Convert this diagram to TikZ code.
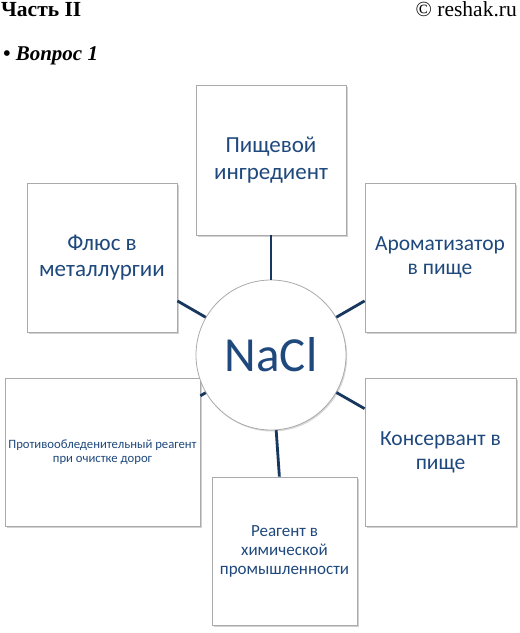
\documentclass[tikz,border=0pt]{standalone}
\usepackage{fontspec}
\setmainfont{Liberation Serif}
\newfontfamily\calibri{Carlito}
\usepackage{tikz}
\usetikzlibrary{shadows}

\definecolor{naclblue}{RGB}{31,73,125}
\definecolor{linkblue}{RGB}{23,55,94}
\definecolor{edgegrey}{RGB}{170,170,170}

\tikzset{
	usebox/.style={shape=rectangle, draw=edgegrey, fill=white, line width=0.8pt,
		drop shadow={shadow xshift=1.5pt, shadow yshift=-1.8pt, opacity=0.35},
		inner sep=0pt, align=center, text=naclblue},
	link/.style={-, line width=2.8pt, draw=linkblue}
}

\begin{document}
\begin{tikzpicture}[x=1pt, y=-1pt]
	\useasboundingbox (0, 0) rectangle (520, 633);
	\fill[white] (0, 0) rectangle (520, 633);

	% header
	\node[anchor=base west, inner sep=0pt, font=\fontsize{21.5}{24}\selectfont\bfseries] (part) at (1, 16) {Часть II};
	\node[anchor=base east, inner sep=0pt, font=\fontsize{21.5}{24}\selectfont] (site) at (517, 16) {© reshak.ru};
	\node[anchor=base west, inner sep=0pt, font=\fontsize{21}{24}\selectfont\bfseries\itshape] (quest) at (3, 60) {• Вопрос 1};

	% boxes
	\node[usebox, minimum width=150, minimum height=150, font=\calibri\fontsize{23}{27}\selectfont] (ingr) at (271, 160) {Пищевой\\ингредиент};
	\node[usebox, minimum width=150, minimum height=149, font=\calibri\fontsize{23}{26}\selectfont] (flux) at (102, 257.5) {Флюс в\\металлургии};
	\node[usebox, minimum width=150, minimum height=149, font=\calibri\fontsize{21.5}{24}\selectfont] (arom) at (440, 257.5) {Ароматизатор\\в пище};
	\node[usebox, minimum width=195, minimum height=148, font=\calibri\fontsize{12.7}{14}\selectfont] (deice) at (102.5, 452) {Противообледенительный реагент\\при очистке дорог};
	\node[usebox, minimum width=151, minimum height=148, font=\calibri\fontsize{21.5}{24}\selectfont] (cons) at (440.5, 452) {Консервант в\\пище};
	\node[usebox, minimum width=145, minimum height=148, font=\calibri\fontsize{17}{19}\selectfont] (chem) at (284.5, 551) {Реагент в\\химической\\промышленности};

	% centre
	\node[shape=circle, draw=edgegrey, fill=white, line width=0.8pt, minimum size=150, inner sep=0pt,
		drop shadow={shadow xshift=1.2pt, shadow yshift=-1.5pt, opacity=0.3},
		text=naclblue, font=\calibri\fontsize{49}{50}\selectfont] (nacl) at (271, 355) {NaCl};

	\path[link] (nacl) edge (ingr);
	\path[link] (nacl) edge (flux);
	\path[link] (nacl) edge (arom);
	\path[link] (nacl) edge (deice);
	\path[link] (nacl) edge (cons);
	\path[link] (nacl) edge (chem);
\end{tikzpicture}
\end{document}
